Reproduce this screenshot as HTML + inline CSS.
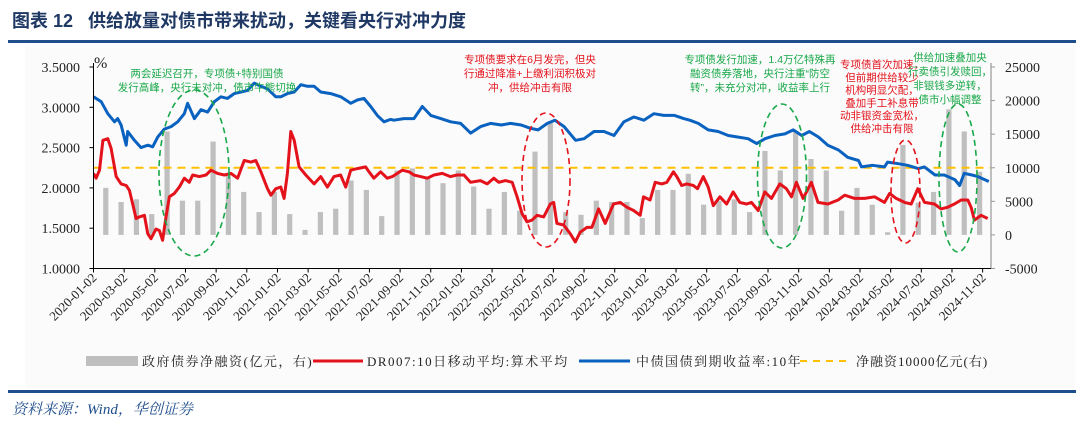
<!DOCTYPE html>
<html><head><meta charset="utf-8"><style>
body{margin:0;background:#fff;}
#wrap{position:relative;width:1080px;height:427px;overflow:hidden;background:#fff;font-family:"Liberation Serif","Noto Serif CJK SC",serif;}
svg text{font-family:"Liberation Serif","Noto Serif CJK SC",serif;}
</style></head><body>
<div id="wrap">
<svg id="svg" width="1080" height="427" xmlns="http://www.w3.org/2000/svg">
<rect x="25" y="45" width="1050" height="343" fill="#fbfbfb"/>
<text x="12" y="27" font-size="18" font-weight="bold" fill="#1f3864" style="font-family:'Liberation Sans','Noto Sans CJK SC',sans-serif">图表 12&#160;&#160;&#160;供给放量对债市带来扰动，关键看央行对冲力度</text>
<rect x="8" y="40" width="1068" height="3" fill="#1f4e8c"/>
<rect x="8" y="390" width="1068" height="3" fill="#1f4e8c"/>
<text x="12" y="414" font-size="15" font-style="italic" fill="#1f4e8c">资料来源：Wind，华创证券</text>
<g id="plot"></g>
</svg>
</div>
<script>
const barMonths = ["2019-12","2020-01","2020-02","2020-03","2020-04","2020-05","2020-06","2020-07","2020-08","2020-09","2020-10","2020-11","2020-12","2021-01","2021-02","2021-03","2021-04","2021-05","2021-06","2021-07","2021-08","2021-09","2021-10","2021-11","2021-12","2022-01","2022-02","2022-03","2022-04","2022-05","2022-06","2022-07","2022-08","2022-09","2022-10","2022-11","2022-12","2023-01","2023-02","2023-03","2023-04","2023-05","2023-06","2023-07","2023-08","2023-09","2023-10","2023-11","2023-12","2024-01","2024-02","2024-03","2024-04","2024-05","2024-06","2024-07","2024-08","2024-09","2024-10"];
const barValues = [3400,7000,4900,5300,3100,15400,5100,5100,13900,9100,6400,3400,6400,3100,750,3400,3900,8100,6700,2800,9600,9900,8600,7700,9600,7200,3900,6400,3600,12400,16900,3400,3000,5100,4900,4900,2500,6700,6700,9100,4500,5100,5300,3400,12500,9600,15400,11300,9600,3600,7000,4500,400,13400,4800,6400,18700,15400,9400];
const blueT = [0,0.5,0.93,1.37,1.58,1.8,2.13,2.23,2.67,3.1,3.54,3.86,4.19,4.62,5.06,5.49,5.92,6.14,6.58,7.01,7.44,7.88,8.31,8.74,9.18,9.62,10.05,10.48,10.92,11.35,11.89,12.22,12.65,13.09,13.52,13.95,14.39,14.82,15.47,16.13,16.78,17.21,17.64,18.08,18.51,18.95,19.38,19.6,20.25,20.9,21.45,22.0,22.65,23.3,23.95,24.6,25.25,25.9,26.6,27.2,27.9,28.5,29.0,29.6,30.1,30.7,31.45,32.0,32.65,33.3,33.95,34.6,35.25,35.9,36.55,37.2,37.9,38.5,38.9,39.45,40.1,40.75,41.4,42.06,42.7,43.26,43.8,44.45,45.1,45.65,46.2,46.7,47.3,47.9,48.6,49.2,49.9,50.1,50.8,51.6,51.8,52.5,53.1,53.8,54.2,54.9,55.5,56.2,56.5,56.8,57.3,57.7,58.4];
const blueV = [3.13,3.07,2.92,2.82,2.86,2.78,2.53,2.70,2.59,2.50,2.53,2.51,2.63,2.73,2.76,2.82,2.92,3.05,2.86,2.97,2.94,3.07,3.13,3.11,3.17,3.19,3.21,3.30,3.26,3.23,3.13,3.13,3.17,3.19,3.28,3.26,3.26,3.19,3.17,3.13,3.05,3.09,3.11,3.01,2.90,2.82,2.85,2.84,2.86,2.86,3.01,2.90,2.86,2.82,2.80,2.68,2.76,2.80,2.78,2.80,2.78,2.74,2.72,2.80,2.84,2.76,2.59,2.61,2.70,2.70,2.65,2.82,2.88,2.84,2.92,2.90,2.90,2.86,2.84,2.80,2.72,2.70,2.65,2.63,2.61,2.55,2.61,2.65,2.67,2.72,2.65,2.70,2.63,2.53,2.47,2.38,2.34,2.26,2.28,2.26,2.32,2.30,2.28,2.24,2.26,2.16,2.16,2.10,2.03,2.18,2.16,2.14,2.08];
const redT = [0,0.17,0.39,0.61,0.93,1.15,1.48,1.80,2.13,2.34,2.56,2.78,2.99,3.32,3.54,3.75,4.08,4.30,4.51,4.73,4.95,5.27,5.60,5.92,6.25,6.47,6.90,7.34,7.66,8.09,8.53,8.96,9.40,9.83,10.27,10.59,10.92,11.35,11.57,11.89,12.22,12.43,12.65,12.87,13.09,13.41,13.85,14.39,14.82,15.26,15.69,16.12,16.45,16.78,17.21,17.75,17.97,18.29,18.73,19.16,19.49,19.82,20.14,20.58,20.90,21.34,21.77,22.21,22.75,23.29,23.72,24.16,24.59,25.24,25.68,26.11,26.44,26.87,27.31,27.63,27.96,28.28,28.61,28.93,29.37,29.80,30.02,30.23,30.67,31.10,31.43,31.75,32.19,32.51,32.95,33.38,33.92,34.36,34.79,35.23,35.66,35.88,36.31,36.64,37.07,37.40,37.83,38.05,38.37,38.70,39.13,39.4,39.78,40.1,40.43,40.86,41.3,41.73,42.16,42.6,42.92,43.36,43.79,44.23,44.77,45.2,45.53,45.85,46.29,46.83,47.26,47.91,48.57,49.0,49.65,50.3,50.95,51.6,51.93,52.36,52.91,53.34,53.77,54.21,54.86,55.29,55.73,56.16,56.6,57.03,57.25,57.46,57.9,58.33];
const redV = [2.18,2.12,2.22,2.59,2.61,2.49,2.14,2.05,2.03,1.97,1.80,1.62,1.64,1.66,1.43,1.37,1.49,1.47,1.35,1.64,1.89,1.93,2.01,2.12,2.07,2.16,2.14,2.16,2.22,2.18,2.16,2.18,2.12,2.34,2.32,2.34,2.20,1.99,1.91,1.99,2.01,1.87,2.18,2.70,2.59,2.26,2.16,2.05,2.14,2.01,2.14,2.16,2.01,2.22,2.24,2.26,2.20,2.12,2.20,2.12,2.14,2.18,2.22,2.20,2.16,2.14,2.12,2.16,2.18,2.14,2.16,2.16,2.07,2.09,2.05,2.12,2.07,2.09,2.07,1.89,1.68,1.58,1.60,1.66,1.64,1.80,1.82,1.56,1.54,1.43,1.33,1.45,1.51,1.51,1.74,1.56,1.80,1.82,1.76,1.72,1.66,1.89,1.85,2.07,2.05,2.07,2.20,2.14,2.03,2.05,2.03,1.99,2.14,2.01,1.78,1.89,1.80,1.95,1.82,1.80,1.82,1.72,1.95,1.87,2.05,1.99,1.89,2.07,1.87,2.07,1.82,1.80,1.85,1.91,1.87,1.87,1.89,1.82,1.93,1.87,1.82,1.80,1.99,1.82,1.80,1.74,1.76,1.80,1.85,1.85,1.76,1.60,1.66,1.62];
const leftTicks = ["1.0000","1.5000","2.0000","2.5000","3.0000","3.5000"];
const rightTicks = ["-5000","0","5000","10000","15000","20000","25000"];
const xTickLabels = ["2020-01-02","2020-03-02","2020-05-02","2020-07-02","2020-09-02","2020-11-02","2021-01-02","2021-03-02","2021-05-02","2021-07-02","2021-09-02","2021-11-02","2022-01-02","2022-03-02","2022-05-02","2022-07-02","2022-09-02","2022-11-02","2023-01-02","2023-03-02","2023-05-02","2023-07-02","2023-09-02","2023-11-02","2024-01-02","2024-03-02","2024-05-02","2024-07-02","2024-09-02","2024-11-02"];
const refLine = 10000;

const NS="http://www.w3.org/2000/svg";
const g=document.getElementById('plot');
const X0=93.5, XL=991, YT=67, YB=268.5;
const xs=i=>X0+15.33*i;
const yL=v=>YB-(v-1.0)/2.5*(YB-YT);
const yR=v=>YB-(v+5000)/30000*(YB-YT);
function mk(tag,attrs){const e=document.createElementNS(NS,tag);for(const k in attrs)e.setAttribute(k,attrs[k]);g.appendChild(e);return e;}
function monthIdx(s){const p=s.split('-');return (+p[0]-2020)*12+(+p[1]-1);}

const defs=mk('defs',{});
const cp=document.createElementNS(NS,'clipPath');cp.setAttribute('id','pc');
const cr=document.createElementNS(NS,'rect');cr.setAttribute('x',X0);cr.setAttribute('y',50);cr.setAttribute('width',XL-X0);cr.setAttribute('height',YB-50);
cp.appendChild(cr);defs.appendChild(cp);

barValues.forEach((v,i)=>{
  const cx=xs(monthIdx(barMonths[i])+0.8);
  const y0=yR(0), y1=yR(v);
  const r=mk('rect',{x:cx-2.6,y:Math.min(y0,y1),width:5.2,height:Math.abs(y0-y1),fill:'#bfbfbf','clip-path':'url(#pc)'});
  
  
});
const rl=mk('line',{x1:X0,x2:XL,y1:yR(refLine),y2:yR(refLine),stroke:'#ffc000','stroke-width':2,'stroke-dasharray':'8 6'});


function path(T,V,color,name){
  const d=T.map((t,i)=>(i?'L':'M')+xs(t).toFixed(1)+','+yL(V[i]).toFixed(1)).join('');
  const p=mk('path',{d:d,fill:'none',stroke:color,'stroke-width':3,'stroke-linejoin':'round','clip-path':'url(#pc)'});
  
  
}
path(blueT,blueV,'#0a62c0','yield-10y-line');
path(redT,redV,'#e3121b','dr007-line');

const al=mk('line',{x1:X0,x2:X0,y1:63,y2:YB,stroke:'#000','stroke-width':1});


const ar=mk('line',{x1:XL,x2:XL,y1:63,y2:YB,stroke:'#bfbfbf','stroke-width':2});


const ax=mk('line',{x1:X0,x2:XL,y1:YB,y2:YB,stroke:'#000','stroke-width':1});


leftTicks.forEach(t=>{
  const y=yL(+t);
  mk('line',{x1:X0-4,x2:X0,y1:y,y2:y,stroke:'#000'});
  const tx=mk('text',{x:80,y:y+5,'font-size':14,'text-anchor':'end',fill:'#222'});tx.textContent=t;
  
  
});
rightTicks.forEach(t=>{
  const y=yR(+t);
  mk('line',{x1:XL,x2:XL+4,y1:y,y2:y,stroke:'#999'});
  const tx=mk('text',{x:1005,y:y+5,'font-size':14,fill:'#222'});tx.textContent=t;
  
  
});
const pc=mk('text',{x:94,y:68,'font-size':16,fill:'#222'});pc.textContent='%';


xTickLabels.forEach(t=>{
  const x=xs(monthIdx(t));
  mk('line',{x1:x,x2:x,y1:YB,y2:YB+4,stroke:'#000'});
  const tx=mk('text',{x:x+4,y:YB+10,'font-size':13,'text-anchor':'end',fill:'#222',transform:`rotate(-45 ${x+4} ${YB+10})`});tx.textContent=t;
  
  
});

[[194,173,35,83,'#1aa84a'],[546,180,24,67,'#e3121b'],[782,176,24.5,72,'#1aa84a'],[905.5,191.5,14.5,51.5,'#e3121b'],[958,178,19,74,'#1aa84a']].forEach((e,i)=>{
  const el=mk('ellipse',{cx:e[0],cy:e[1],rx:e[2],ry:e[3],fill:'none',stroke:e[4],'stroke-width':1.6,'stroke-dasharray':'6 4'});
  
  
});
function note(lines,x,y0,dy,color,anchor,name){
  lines.forEach((l,i)=>{
    const t=mk('text',{x:x,y:y0+i*dy,'font-size':10.5,fill:color,'text-anchor':anchor,style:"font-family:'Liberation Sans','Noto Sans CJK SC',sans-serif"});
    t.textContent=l;
    
    
  });
}
note(['两会延迟召开，专项债+特别国债','发行高峰，央行未对冲，债市牛熊切换'],207,77,14,'#1aa84a','middle','annotation-2020');
note(['专项债要求在6月发完，但央','行通过降准+上缴利润积极对','冲，供给冲击有限'],530,63,14,'#e3121b','middle','annotation-2022');
note(['专项债发行加速，1.4万亿特殊再','融资债券落地，央行注重“防空','转”，未充分对冲，收益率上行'],760,63,14,'#1aa84a','middle','annotation-2023');
note(['专项债首次加速，','但前期供给较少','机构明显欠配，','叠加手工补息带','动非银资金宽松，','供给冲击有限'],882,68,12.8,'#e3121b','middle','annotation-2024-q2');
note(['供给加速叠加央','行卖债引发赎回，','非银钱多逆转，','债市小幅调整'],950,61,14,'#1aa84a','middle','annotation-2024-q3');

function leg(el,name){}
let e;
e=mk('rect',{x:86,y:356,width:52,height:10,fill:'#bfbfbf'});leg(e,'legend-bar-swatch');
e=mk('text',{x:142,y:366,'font-size':13,fill:'#222','letter-spacing':'1.5'});e.textContent='政府债券净融资(亿元，右)';leg(e,'legend-net-financing');
e=mk('line',{x1:313,x2:363,y1:361,y2:361,stroke:'#e3121b','stroke-width':3});leg(e,'legend-red-swatch');
e=mk('text',{x:367,y:366,'font-size':13,fill:'#222','letter-spacing':'1.5'});e.textContent='DR007:10日移动平均:算术平均';leg(e,'legend-dr007');
e=mk('line',{x1:579,x2:630,y1:361,y2:361,stroke:'#0a62c0','stroke-width':3});leg(e,'legend-blue-swatch');
e=mk('text',{x:636,y:366,'font-size':13,fill:'#222','letter-spacing':'1.5'});e.textContent='中债国债到期收益率:10年';leg(e,'legend-yield');
e=mk('line',{x1:800,x2:850,y1:361,y2:361,stroke:'#ffc000','stroke-width':2,'stroke-dasharray':'7 6'});leg(e,'legend-ref-swatch');
e=mk('text',{x:856,y:366,'font-size':13,fill:'#222','letter-spacing':'1'});e.textContent='净融资10000亿元(右)';leg(e,'legend-ref-line');
</script>
</body></html>
